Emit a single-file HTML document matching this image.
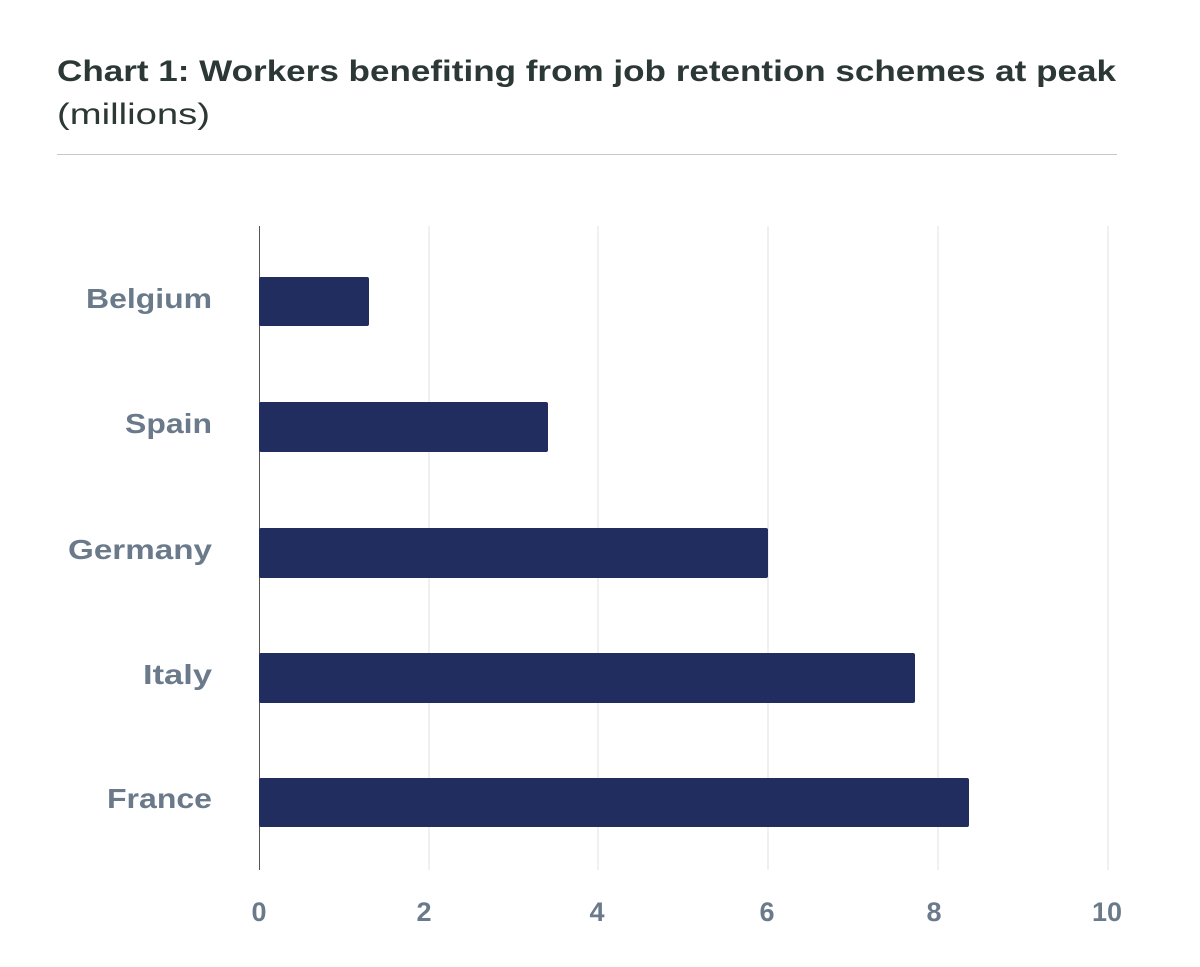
<!DOCTYPE html>
<html><head><meta charset="utf-8"><style>
body{margin:0;background:#fff;width:1200px;height:962px;overflow:hidden;font-family:"Liberation Sans",sans-serif;}
</style></head><body>
<svg width="1200" height="962" xmlns="http://www.w3.org/2000/svg">
<text x="57" y="81" font-family="Liberation Sans, sans-serif" font-weight="bold" font-size="30" fill="#2b3835" textLength="1059" lengthAdjust="spacingAndGlyphs">Chart 1: Workers benefiting from job retention schemes at peak</text>
<text x="57" y="124" font-family="Liberation Sans, sans-serif" font-size="30" fill="#2b3835" textLength="153" lengthAdjust="spacingAndGlyphs">(millions)</text>
<line x1="57" y1="154.5" x2="1117" y2="154.5" stroke="#c8c8c8" stroke-width="1"/>
<g stroke="#e2e2e2" stroke-width="1">
<line x1="429" y1="226" x2="429" y2="870"/>
<line x1="598" y1="226" x2="598" y2="870"/>
<line x1="768" y1="226" x2="768" y2="870"/>
<line x1="938" y1="226" x2="938" y2="870"/>
<line x1="1108" y1="226" x2="1108" y2="870"/>
</g>
<line x1="259.5" y1="226" x2="259.5" y2="870" stroke="#555" stroke-width="1"/>
<g fill="#202d5e">
<rect x="259" y="277" width="110" height="49" rx="2"/>
<rect x="259" y="402" width="289" height="50" rx="2"/>
<rect x="259" y="528" width="509" height="50" rx="2"/>
<rect x="259" y="653" width="656" height="50" rx="2"/>
<rect x="259" y="778" width="710" height="49" rx="2"/>
</g>
<g font-family="Liberation Sans, sans-serif" font-weight="bold" font-size="28" fill="#6b7a8a">
<text x="86" y="308" textLength="126" lengthAdjust="spacingAndGlyphs">Belgium</text>
<text x="125" y="433" textLength="87" lengthAdjust="spacingAndGlyphs">Spain</text>
<text x="68" y="559" textLength="144" lengthAdjust="spacingAndGlyphs">Germany</text>
<text x="143" y="684" textLength="69" lengthAdjust="spacingAndGlyphs">Italy</text>
<text x="107" y="808" textLength="105" lengthAdjust="spacingAndGlyphs">France</text>
</g>
<g font-family="Liberation Sans, sans-serif" font-weight="bold" font-size="27" fill="#6b7a8a" text-anchor="middle">
<text x="259" y="921">0</text>
<text x="424" y="921">2</text>
<text x="597" y="921">4</text>
<text x="767" y="921">6</text>
<text x="934" y="921">8</text>
<text x="1107" y="921">10</text>
</g>
</svg>
</body></html>
